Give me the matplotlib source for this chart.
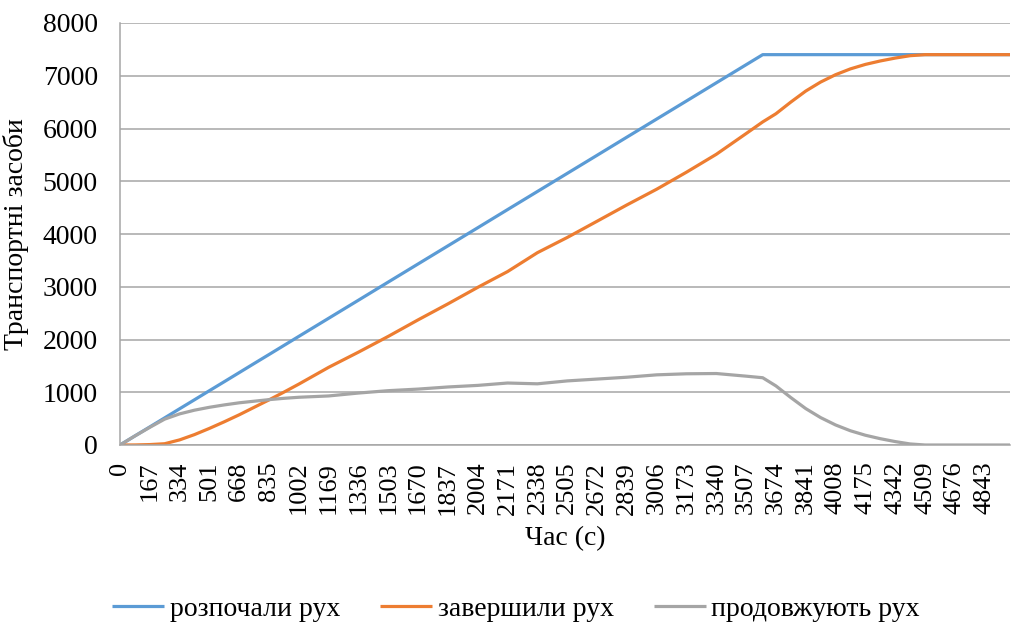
import matplotlib
matplotlib.use("Agg")
import matplotlib.pyplot as plt

plt.rcParams['font.family'] = ['Liberation Serif', 'DejaVu Serif']

# Час моделювання (с)
time_s = [0, 83, 167, 250, 334, 417, 501, 584, 668, 751, 835, 918, 1002,
          1169, 1336, 1503, 1670, 1837, 2004, 2171, 2338, 2505, 2672, 2839,
          3006, 3173, 3340, 3507, 3600, 3674, 3757, 3841, 3924, 4008, 4091,
          4175, 4258, 4342, 4425, 4509, 4676, 4843, 4985]

started = [0, 171, 343, 514, 687, 857, 1030, 1200, 1373, 1544, 1716, 1887, 2060,
           2403, 2746, 3090, 3433, 3776, 4119, 4463, 4806, 5149, 5492, 5836,
           6179, 6522, 6866, 7209, 7400, 7400, 7400, 7400, 7400, 7400, 7400,
           7400, 7400, 7400, 7400, 7400, 7400, 7400, 7400]

finished = [0, 1, 8, 24, 97, 197, 315, 440, 573, 714, 856, 1002, 1155,
            1473, 1761, 2060, 2373, 2676, 2989, 3288, 3646, 3934, 4242, 4551,
            4849, 5172, 5511, 5904, 6125, 6280, 6500, 6710, 6880, 7020, 7130,
            7215, 7280, 7335, 7380, 7400, 7400, 7400, 7400]

moving = [0, 170, 335, 490, 590, 660, 715, 760, 800, 830, 860, 885, 905,
          930, 985, 1030, 1060, 1100, 1130, 1175, 1160, 1215, 1250, 1285,
          1330, 1350, 1355, 1305, 1275, 1120, 900, 690, 520, 380, 270,
          185, 120, 65, 20, 0, 0, 0, 0]

x_ticks = list(range(0, 4844, 167))
y_ticks = list(range(0, 8001, 1000))

labels = ["розпочали рух", "завершили рух", "продовжують рух"]
colors = ["#5B9BD5", "#ED7D31", "#A5A5A5"]

FS = 20

fig = plt.figure(figsize=(10.11, 6.25), dpi=100)
ax = fig.add_axes([120 / 1011, 1 - 445 / 625, 890 / 1011, 422 / 625])

for series, lab, col in zip([started, finished, moving], labels, colors):
    ax.plot(time_s, series, color=col, lw=2.3, label=lab, solid_capstyle='butt')

ax.set_xlim(0, 4985)
ax.set_ylim(0, 8000)
ax.set_xticks(x_ticks)
ax.set_xticklabels([str(v) for v in x_ticks], rotation=90, fontsize=19)
ax.set_yticks(y_ticks)
ax.set_yticklabels([str(v) for v in y_ticks], fontsize=FS)
ax.tick_params(axis='both', length=0)
ax.tick_params(axis='y', pad=16)
ax.tick_params(axis='x', pad=12)

ax.grid(axis='y', color='#A6A6A6', lw=1.1)
ax.set_axisbelow(True)
for side in ['top', 'right']:
    ax.spines[side].set_visible(False)
for side in ['left', 'bottom']:
    ax.spines[side].set_color('#A6A6A6')
    ax.spines[side].set_linewidth(1.1)

ax.set_ylabel("Транспортні засоби", fontsize=FS, labelpad=10)
ax.set_xlabel("Час (с)", fontsize=FS, labelpad=8)

fig.legend(loc='center', bbox_to_anchor=(516 / 1011, 1 - 609 / 625), ncol=3,
           frameon=False, fontsize=FS, handlelength=1.87, handletextpad=0.2,
           columnspacing=1.44)

fig.savefig("out.png", dpi=100)
